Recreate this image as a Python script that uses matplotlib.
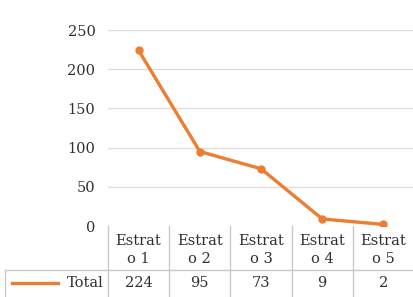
import matplotlib
matplotlib.use("Agg")
import matplotlib.pyplot as plt
import matplotlib.transforms as mtransforms
import textwrap

categories = ["Estrato 1", "Estrato 2", "Estrato 3", "Estrato 4", "Estrato 5"]
series_name = "Total"
values = [224, 95, 73, 9, 2]
yticks = [0, 50, 100, 150, 200, 250]

ORANGE = "#ED7D31"
TEXT = "#303030"
GRID = "#DDDDDD"
BORDER = "#C8C8C8"
FONT = "DejaVu Serif"
FS = 10.5

W, H = 414, 297
fig = plt.figure(figsize=(W / 100, H / 100), dpi=100)

def px(x0, y0, x1, y1):
    return [x0 / W, 1 - y1 / H, (x1 - x0) / W, (y1 - y0) / H]

ax = fig.add_axes(px(108, 30, 414, 226))
xs = list(range(len(categories)))
ax.plot(xs, values, color=ORANGE, lw=2.4, marker="o", ms=5, solid_capstyle="round", zorder=3)
ax.set_xlim(-0.5, len(categories) - 0.5)
ax.set_ylim(0, 250)
ax.set_yticks(yticks)
ax.set_yticklabels([str(v) for v in yticks], fontfamily=FONT, fontsize=FS, color=TEXT)
ax.tick_params(axis="y", length=0, pad=9)
ax.set_xticks([])
for s in ax.spines.values():
    s.set_visible(False)
for v in yticks[1:]:
    ax.axhline(v, color=GRID, lw=1, zorder=0)

# data table
tab = fig.add_axes(px(108, 226, 414, 297))
tab.set_xlim(-0.5, len(categories) - 0.5)
tab.set_ylim(0, 71)
tab.axis("off")
trans = mtransforms.blended_transform_factory(fig.transFigure, tab.transData)
tab.plot([5 / W, 1], [71 - 44, 71 - 44], transform=trans, color=BORDER, lw=1, clip_on=False)
for i in range(1, len(categories)):
    tab.plot([i - 0.5, i - 0.5], [0, 71], color=BORDER, lw=1, clip_on=False)
tab.plot([5 / W, 5 / W], [0, 71 - 44], transform=trans, color=BORDER, lw=1, clip_on=False)
tab.plot([108 / W, 108 / W], [0, 71], transform=trans, color=BORDER, lw=1, clip_on=False)
for i, (c, v) in enumerate(zip(categories, values)):
    tab.text(i, 71 - 24, textwrap.fill(c, 6), ha="center", va="center",
             fontfamily=FONT, fontsize=FS, color=TEXT, linespacing=1.4)
    tab.text(i, 71 - 57, str(v), ha="center", va="center",
             fontfamily=FONT, fontsize=FS, color=TEXT)
tab.plot([12 / W, 58 / W], [71 - 57, 71 - 57], transform=trans, color=ORANGE, lw=2.4, clip_on=False)
tab.text(104 / W, 71 - 57, series_name, transform=trans, ha="right", va="center",
         fontfamily=FONT, fontsize=FS, color=TEXT)

fig.savefig("out.png", dpi=100)
